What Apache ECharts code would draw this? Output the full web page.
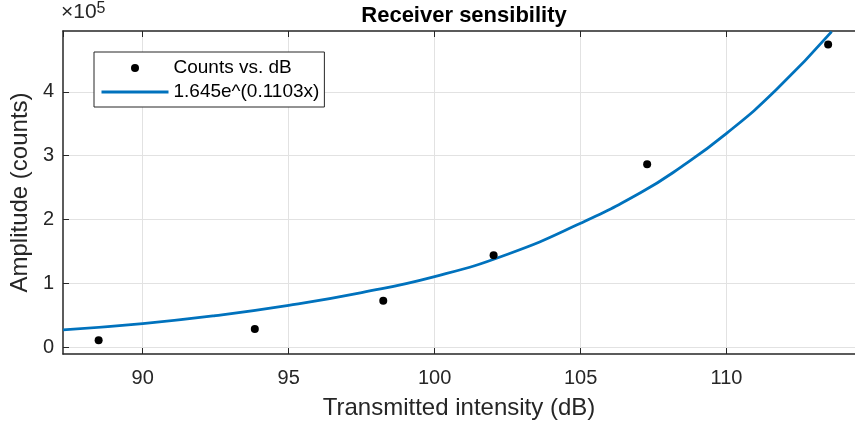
<!DOCTYPE html>
<html>
<head>
<meta charset="utf-8">
<script src="https://cdn.jsdelivr.net/npm/echarts@6/dist/echarts.min.js"></script>
<style>
  html, body { margin: 0; padding: 0; background: #fff; }
  #chart { width: 855px; height: 427px; }
</style>
</head>
<body>
<div id="chart"></div>
<script>
// measured points (dB, counts)
const pointX = [88.49, 93.84, 98.24, 102.02, 107.28, 113.48];
const pointY = [11600, 29000, 73400, 144400, 286600, 474000];

// fitted curve
const fitX = [87.27, 90, 92.5, 95, 97.5, 100, 102.5, 105, 107.05, 108.4, 110, 111.7, 113.6];
const fitY = [27700, 37500, 50000, 66000, 86000, 111000, 146000, 194400, 242000, 281000, 335000, 403000, 494000];

const seriesNames = ["Counts vs. dB", "1.645e^(0.1103x)"];
const yTickScale = 1e5;

const txt = "#262626";
const font = "Liberation Sans, Arial, Helvetica, sans-serif";

const chart = echarts.init(document.getElementById("chart"));

const option = {
  backgroundColor: "#fff",
  animation: false,
  title: {
    text: "Receiver sensibility",
    left: 459,
    textAlign: "center",
    top: 0,
    textStyle: { fontFamily: font, fontSize: 22, fontWeight: "bold", color: "#000" }
  },
  grid: { left: 61, top: 31, right: 0, bottom: 73 },
  legend: {
    orient: "vertical",
    left: 94,
    top: 52,
    padding: [6, 5, 5, 6],
    itemGap: 4,
    itemWidth: 67,
    itemHeight: 8,
    borderColor: txt,
    borderWidth: 1,
    backgroundColor: "#fff",
    selectedMode: false,
    textStyle: { fontFamily: font, fontSize: 19, color: "#000", lineHeight: 20 },
    data: [
      { name: seriesNames[0], icon: "circle", itemStyle: { color: "#000", opacity: 1 } },
      { name: seriesNames[1], itemStyle: { opacity: 0 }, lineStyle: { width: 3 } }
    ]
  },
  graphic: [{
    type: "text",
    left: 61,
    top: 1,
    style: {
      text: "×10{s|5}",
      font: "21px " + font,
      fill: txt,
      rich: { s: { fontSize: 16, fontFamily: font, fill: txt, verticalAlign: "top", padding: [0, 0, 7, 0] } }
    }
  }],
  xAxis: [{
    type: "value",
    min: 87.27,
    max: 114.4,
    minInterval: 5,
    maxInterval: 5,
    name: "Transmitted intensity (dB)",
    nameLocation: "middle",
    nameGap: 42,
    nameTextStyle: { fontFamily: font, fontSize: 24, color: txt },
    axisLine: { show: true, onZero: false, lineStyle: { color: txt, width: 1.5 } },
    axisTick: { show: true, inside: true, length: 6, lineStyle: { color: txt } },
    axisLabel: {
      fontFamily: font, fontSize: 20, color: txt, margin: 14,
      showMinLabel: false, showMaxLabel: false
    },
    splitLine: { show: true, showMinLine: false, showMaxLine: false, lineStyle: { color: "#e2e2e2", width: 1 } }
  }, {
    type: "value",
    position: "top",
    min: 87.27,
    max: 114.4,
    minInterval: 5,
    maxInterval: 5,
    axisLine: { show: true, onZero: false, lineStyle: { color: txt, width: 1.5 } },
    axisTick: { show: true, inside: true, length: 6, lineStyle: { color: txt } },
    axisLabel: { show: false },
    splitLine: { show: false }
  }],
  yAxis: {
    type: "value",
    min: -10000,
    max: 495000,
    minInterval: 100000,
    maxInterval: 100000,
    name: "Amplitude (counts)",
    nameLocation: "middle",
    nameGap: 27,
    nameTextStyle: { fontFamily: font, fontSize: 24, color: txt },
    axisLine: { show: true, onZero: false, lineStyle: { color: txt, width: 1.5 } },
    axisTick: { show: true, inside: true, length: 6, lineStyle: { color: txt } },
    axisLabel: {
      fontFamily: font, fontSize: 20, color: txt, margin: 9,
      showMinLabel: false, showMaxLabel: false,
      formatter: (v) => String(Math.round(v / yTickScale))
    },
    splitLine: { show: true, showMinLine: false, showMaxLine: false, lineStyle: { color: "#e2e2e2", width: 1 } }
  },
  series: [
    {
      name: seriesNames[1],
      type: "line",
      data: fitX.map((x, i) => [x, fitY[i]]),
      symbol: "none",
      smooth: 0.5,
      clip: true,
      z: 2,
      lineStyle: { color: "#0072BD", width: 2.8 },
      itemStyle: { color: "#0072BD" }
    },
    {
      name: seriesNames[0],
      type: "scatter",
      data: pointX.map((x, i) => [x, pointY[i]]),
      symbol: "circle",
      symbolSize: 8,
      z: 3,
      itemStyle: { color: "#000", opacity: 1 }
    }
  ]
};

chart.setOption(option);
</script>
</body>
</html>
